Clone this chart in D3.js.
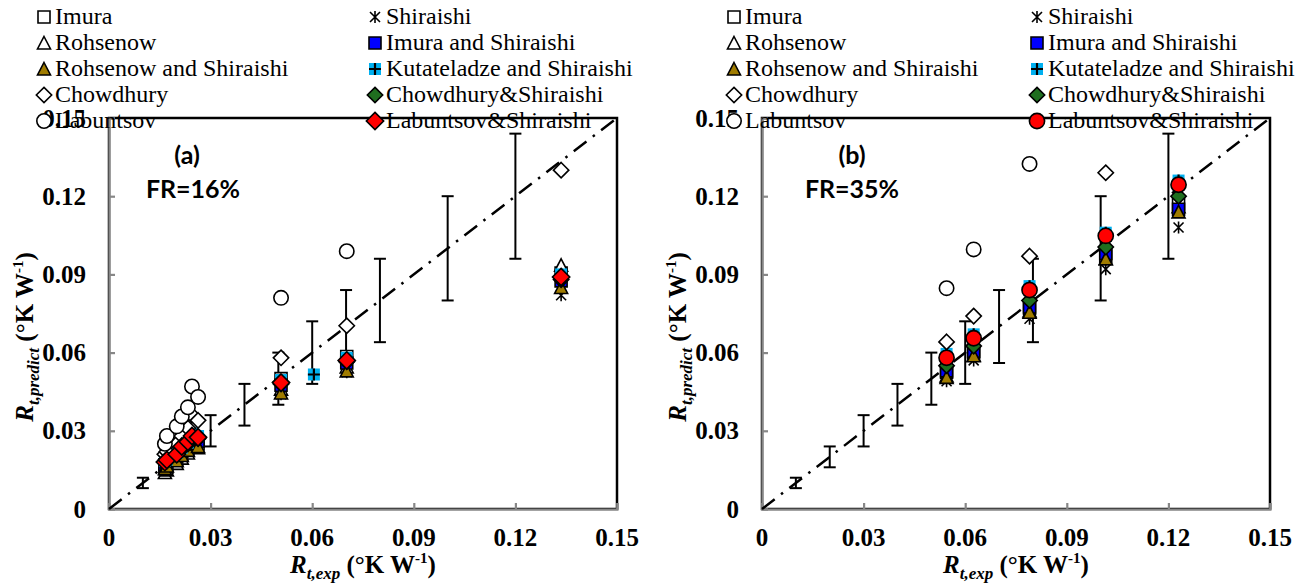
<!DOCTYPE html>
<html>
<head>
<meta charset="utf-8">
<script src="https://cdn.jsdelivr.net/npm/d3@7"></script>
<style>
  body { margin: 0; background: #fff; }
</style>
</head>
<body>
<svg id="chart" width="1306" height="585" font-family="'Liberation Serif', 'DejaVu Serif', serif"></svg>
<script>
/* global d3: false */

const seriesNames = [
  'Imura', 'Shiraishi', 'Rohsenow', 'Imura and Shiraishi',
  'Rohsenow and Shiraishi', 'Kutateladze and Shiraishi', 'Chowdhury',
  'Chowdhury&Shiraishi', 'Labuntsov', 'Labuntsov&Shiraishi'];
const seriesShapes = [
  'squareOpen', 'star', 'triangleOpen', 'squareBlue', 'triangleOlive',
  'plusCyan', 'diamondOpen', 'diamondGreen', 'circleOpen', 'last'];

const ticks = [0, 0.03, 0.06, 0.09, 0.12, 0.15];
const tickLabels = ['0', '0.03', '0.06', '0.09', '0.12', '0.15'];

// experimental values with their +/- bands
const expX = [0.01, 0.02, 0.03, 0.04, 0.05, 0.06, 0.07, 0.08, 0.10, 0.12];
const expLo = [0.008, 0.016, 0.024, 0.032, 0.040, 0.048, 0.056, 0.064, 0.080, 0.096];
const expHi = [0.012, 0.024, 0.036, 0.048, 0.060, 0.072, 0.084, 0.096, 0.120, 0.144];
const diag = [0, 0.15];

// panel (a), FR=16%
const xA = [0.0165, 0.0171, 0.0200, 0.0215, 0.0233, 0.0245, 0.0263, 0.0508, 0.0605, 0.0702, 0.1335];
const imuraA = [0.0155, 0.0160, 0.0190, 0.0210, 0.0230, 0.0260, 0.0250, 0.0500, null, 0.0585, 0.0905];
const shiraishiA = [0.0160, 0.0170, 0.0190, 0.0210, 0.0230, 0.0250, 0.0240, 0.0440, null, 0.0525, 0.0820];
const rohsenowA = [0.0140, 0.0150, 0.0175, 0.0195, 0.0215, 0.0245, 0.0235, 0.0460, null, 0.0545, 0.0935];
const imuraShirA = [0.0170, 0.0175, 0.0200, 0.0220, 0.0240, 0.0270, 0.0260, 0.0475, null, 0.0560, 0.0875];
const rohShirA = [0.0155, 0.0165, 0.0185, 0.0205, 0.0225, 0.0250, 0.0240, 0.0445, null, 0.0530, 0.0850];
const kutShirA = [0.0185, 0.0190, 0.0215, 0.0235, 0.0255, 0.0290, 0.0280, 0.0495, 0.0516, 0.0580, 0.0900];
const chowA = [0.0210, 0.0220, 0.0250, 0.0280, 0.0310, 0.0360, 0.0340, 0.0580, null, 0.0703, 0.1300];
const chowShirA = [0.0180, 0.0185, 0.0210, 0.0230, 0.0250, 0.0280, 0.0270, 0.0480, null, 0.0565, 0.0880];
const labA = [0.0250, 0.0280, 0.0317, 0.0355, 0.0390, 0.0470, 0.0430, 0.0810, null, 0.0989, null];
const labShirA = [0.0180, 0.0188, 0.0210, 0.0240, 0.0258, 0.0280, 0.0275, 0.0485, null, 0.0570, 0.0890];

// panel (b), FR=35%
const xB = [0.0545, 0.0625, 0.0790, 0.1015, 0.1230];
const imuraB = [0.0525, 0.0600, 0.0770, 0.0970, 0.1170];
const shiraishiB = [0.0490, 0.0570, 0.0730, 0.0920, 0.1080];
const rohsenowB = [0.0510, 0.0590, 0.0760, 0.0960, 0.1160];
const imuraShirB = [0.0530, 0.0605, 0.0775, 0.0980, 0.1150];
const rohShirB = [0.0505, 0.0588, 0.0755, 0.0960, 0.1140];
const kutShirB = [0.0595, 0.0670, 0.0855, 0.1060, 0.1260];
const chowB = [0.0641, 0.0740, 0.0970, 0.1290, null];
const chowShirB = [0.0550, 0.0625, 0.0800, 0.1005, 0.1200];
const labB = [0.0847, 0.0996, 0.1324, null, null];
const labShirB = [0.0580, 0.0655, 0.0840, 0.1048, 0.1244];

const panels = [
  {
    left: 109, label: '(a)', fr: 'FR=16%', labelX: 187, frX: 193, lastShape: 'diamondRed',
    legendX: [44, 375], x: xA,
    ys: [imuraA, shiraishiA, rohsenowA, imuraShirA, rohShirA, kutShirA, chowA, chowShirA, labA, labShirA],
  },
  {
    left: 762, label: '(b)', fr: 'FR=35%', labelX: 852, frX: 852, lastShape: 'circleRed',
    legendX: [734, 1037], x: xB,
    ys: [imuraB, shiraishiB, rohsenowB, imuraShirB, rohShirB, kutShirB, chowB, chowShirB, labB, labShirB],
  },
];

const serif = "'Liberation Serif', 'DejaVu Serif', serif";
const svg = d3.select('#chart');
const plotW = 508;
const plotTop = 118;
const plotBottom = 509;

function drawMarker(g, shape, cx, cy) {
  const m = g.append('g').attr('transform', `translate(${cx},${cy})`);
  const sq = d3.symbol().type(d3.symbolSquare).size(144)();
  const dia = d3.symbol().type(d3.symbolDiamond2).size(150)();
  const tri = 'M0,-6.5L6.5,6L-6.5,6Z';
  if (shape === 'squareOpen') {
    m.append('path').attr('d', sq).attr('fill', '#fff').attr('stroke', '#000').attr('stroke-width', 1.6);
  } else if (shape === 'squareBlue') {
    m.append('path').attr('d', sq).attr('fill', '#0000ff').attr('stroke', '#000').attr('stroke-width', 1.6);
  } else if (shape === 'star') {
    m.append('path').attr('d', 'M-5,-5L5,5M-5,5L5,-5M0,-6L0,6')
      .attr('stroke', '#000').attr('stroke-width', 1.6).attr('fill', 'none');
  } else if (shape === 'triangleOpen') {
    m.append('path').attr('d', tri).attr('fill', '#fff').attr('stroke', '#000').attr('stroke-width', 1.6);
  } else if (shape === 'triangleOlive') {
    m.append('path').attr('d', tri).attr('fill', '#a07c00').attr('stroke', '#000').attr('stroke-width', 1.6);
  } else if (shape === 'plusCyan') {
    m.append('path').attr('d', sq).attr('fill', '#00b0f0');
    m.append('path').attr('d', 'M-6,0L6,0M0,-6L0,6').attr('stroke', '#000').attr('stroke-width', 2.2);
  } else if (shape === 'diamondOpen') {
    m.append('path').attr('d', dia).attr('fill', '#fff').attr('stroke', '#000').attr('stroke-width', 1.6);
  } else if (shape === 'diamondGreen') {
    m.append('path').attr('d', dia).attr('fill', '#1f6e1f').attr('stroke', '#000').attr('stroke-width', 1.6);
  } else if (shape === 'circleOpen') {
    m.append('circle').attr('r', 7.2).attr('fill', '#fff').attr('stroke', '#000').attr('stroke-width', 1.6);
  } else if (shape === 'diamondRed') {
    m.append('path').attr('d', d3.symbol().type(d3.symbolDiamond2).size(190)())
      .attr('fill', '#ff0000').attr('stroke', '#000').attr('stroke-width', 1.6);
  } else if (shape === 'circleRed') {
    m.append('circle').attr('r', 7.6).attr('fill', '#ff0000').attr('stroke', '#000').attr('stroke-width', 1.6);
  }
}

function axisTitle(g, x, y, sub, rotate) {
  const t = g.append('text')
    .attr('text-anchor', 'middle')
    .attr('font-family', serif)
    .attr('font-weight', 'bold')
    .attr('font-size', 25)
    .attr('transform', rotate ? `translate(${x},${y}) rotate(-90)` : `translate(${x},${y})`);
  t.append('tspan').attr('font-style', 'italic').text('R');
  t.append('tspan').attr('font-style', 'italic').attr('font-size', 17).attr('dy', 6).text(sub);
  t.append('tspan').attr('dy', -6).text(' (°K W');
  t.append('tspan').attr('font-size', 15).attr('dy', -10).text('-1');
  t.append('tspan').attr('dy', 10).text(')');
}

panels.forEach((p) => {
  const x = d3.scaleLinear().domain([0, 0.15]).range([p.left, p.left + plotW]);
  const y = d3.scaleLinear().domain([0, 0.15]).range([plotBottom, plotTop]);
  const g = svg.append('g');

  // plot frame
  g.append('rect')
    .attr('x', x(0)).attr('y', y(0.15))
    .attr('width', x(0.15) - x(0)).attr('height', y(0) - y(0.15))
    .attr('fill', 'none').attr('stroke', '#000').attr('stroke-width', 2.5);

  // gray axes with inner ticks
  const yAxis = d3.axisRight(y).tickValues(ticks).tickSize(6).tickFormat('');
  const xAxis = d3.axisTop(x).tickValues(ticks).tickSize(6).tickFormat('');
  g.append('g').attr('transform', `translate(${x(0)},0)`).call(yAxis)
    .call((a) => a.selectAll('path,line').attr('stroke', '#878787').attr('stroke-width', 2.2));
  g.append('g').attr('transform', `translate(0,${y(0)})`).call(xAxis)
    .call((a) => a.selectAll('path,line').attr('stroke', '#878787').attr('stroke-width', 2.2));

  // tick labels
  g.selectAll('.ylab').data(ticks).enter().append('text')
    .attr('x', x(0) - 23).attr('y', (d) => y(d) + 8.5)
    .attr('font-family', serif)
    .attr('text-anchor', 'end').attr('font-weight', 'bold').attr('font-size', 25)
    .text((d, i) => tickLabels[i]);
  g.selectAll('.xlab').data(ticks).enter().append('text')
    .attr('x', (d) => x(d)).attr('y', 546)
    .attr('font-family', serif)
    .attr('text-anchor', 'middle').attr('font-weight', 'bold').attr('font-size', 25)
    .text((d, i) => tickLabels[i]);

  axisTitle(g, x(0.075), 573, 't,exp', false);
  axisTitle(g, p.left - 76, 337, 't,predict', true);

  // 1:1 line
  g.append('path')
    .attr('d', d3.line().x((d) => x(d)).y((d) => y(d))(diag))
    .attr('stroke', '#000').attr('stroke-width', 2.5)
    .attr('stroke-dasharray', '16,8,2.5,8').attr('fill', 'none');

  // experimental error bars
  const eb = g.append('g').attr('stroke', '#000').attr('stroke-width', 2);
  expX.forEach((v, i) => {
    eb.append('line').attr('x1', x(v)).attr('x2', x(v)).attr('y1', y(expLo[i])).attr('y2', y(expHi[i]));
    eb.append('line').attr('x1', x(v) - 6).attr('x2', x(v) + 6).attr('y1', y(expLo[i])).attr('y2', y(expLo[i]));
    eb.append('line').attr('x1', x(v) - 6).attr('x2', x(v) + 6).attr('y1', y(expHi[i])).attr('y2', y(expHi[i]));
  });

  // series markers, drawn in legend order
  p.ys.forEach((vals, s) => {
    const shape = seriesShapes[s] === 'last' ? p.lastShape : seriesShapes[s];
    const sg = g.append('g');
    vals.forEach((v, i) => {
      if (v !== null && v <= 0.15) {
        drawMarker(sg, shape, x(p.x[i]), y(v));
      }
    });
  });

  // annotations
  g.append('text').attr('x', p.labelX).attr('y', 164)
    .attr('text-anchor', 'middle').attr('font-weight', 'bold').attr('font-size', 25)
    .attr('font-family', 'Lato, sans-serif').text(p.label);
  g.append('text').attr('x', p.frX).attr('y', 198)
    .attr('text-anchor', 'middle').attr('font-weight', 'bold').attr('font-size', 25)
    .attr('font-family', 'Lato, sans-serif').text(p.fr);

  // legend, two columns
  const lg = g.append('g');
  seriesNames.forEach((name, s) => {
    const col = s % 2;
    const row = Math.floor(s / 2);
    const by = 24 + row * 26;
    const shape = seriesShapes[s] === 'last' ? p.lastShape : seriesShapes[s];
    drawMarker(lg, shape, p.legendX[col], by - 7);
    lg.append('text').attr('x', p.legendX[col] + 11).attr('y', by)
      .attr('font-family', serif).attr('font-size', 24).text(name);
  });
});
</script>
</body>
</html>
